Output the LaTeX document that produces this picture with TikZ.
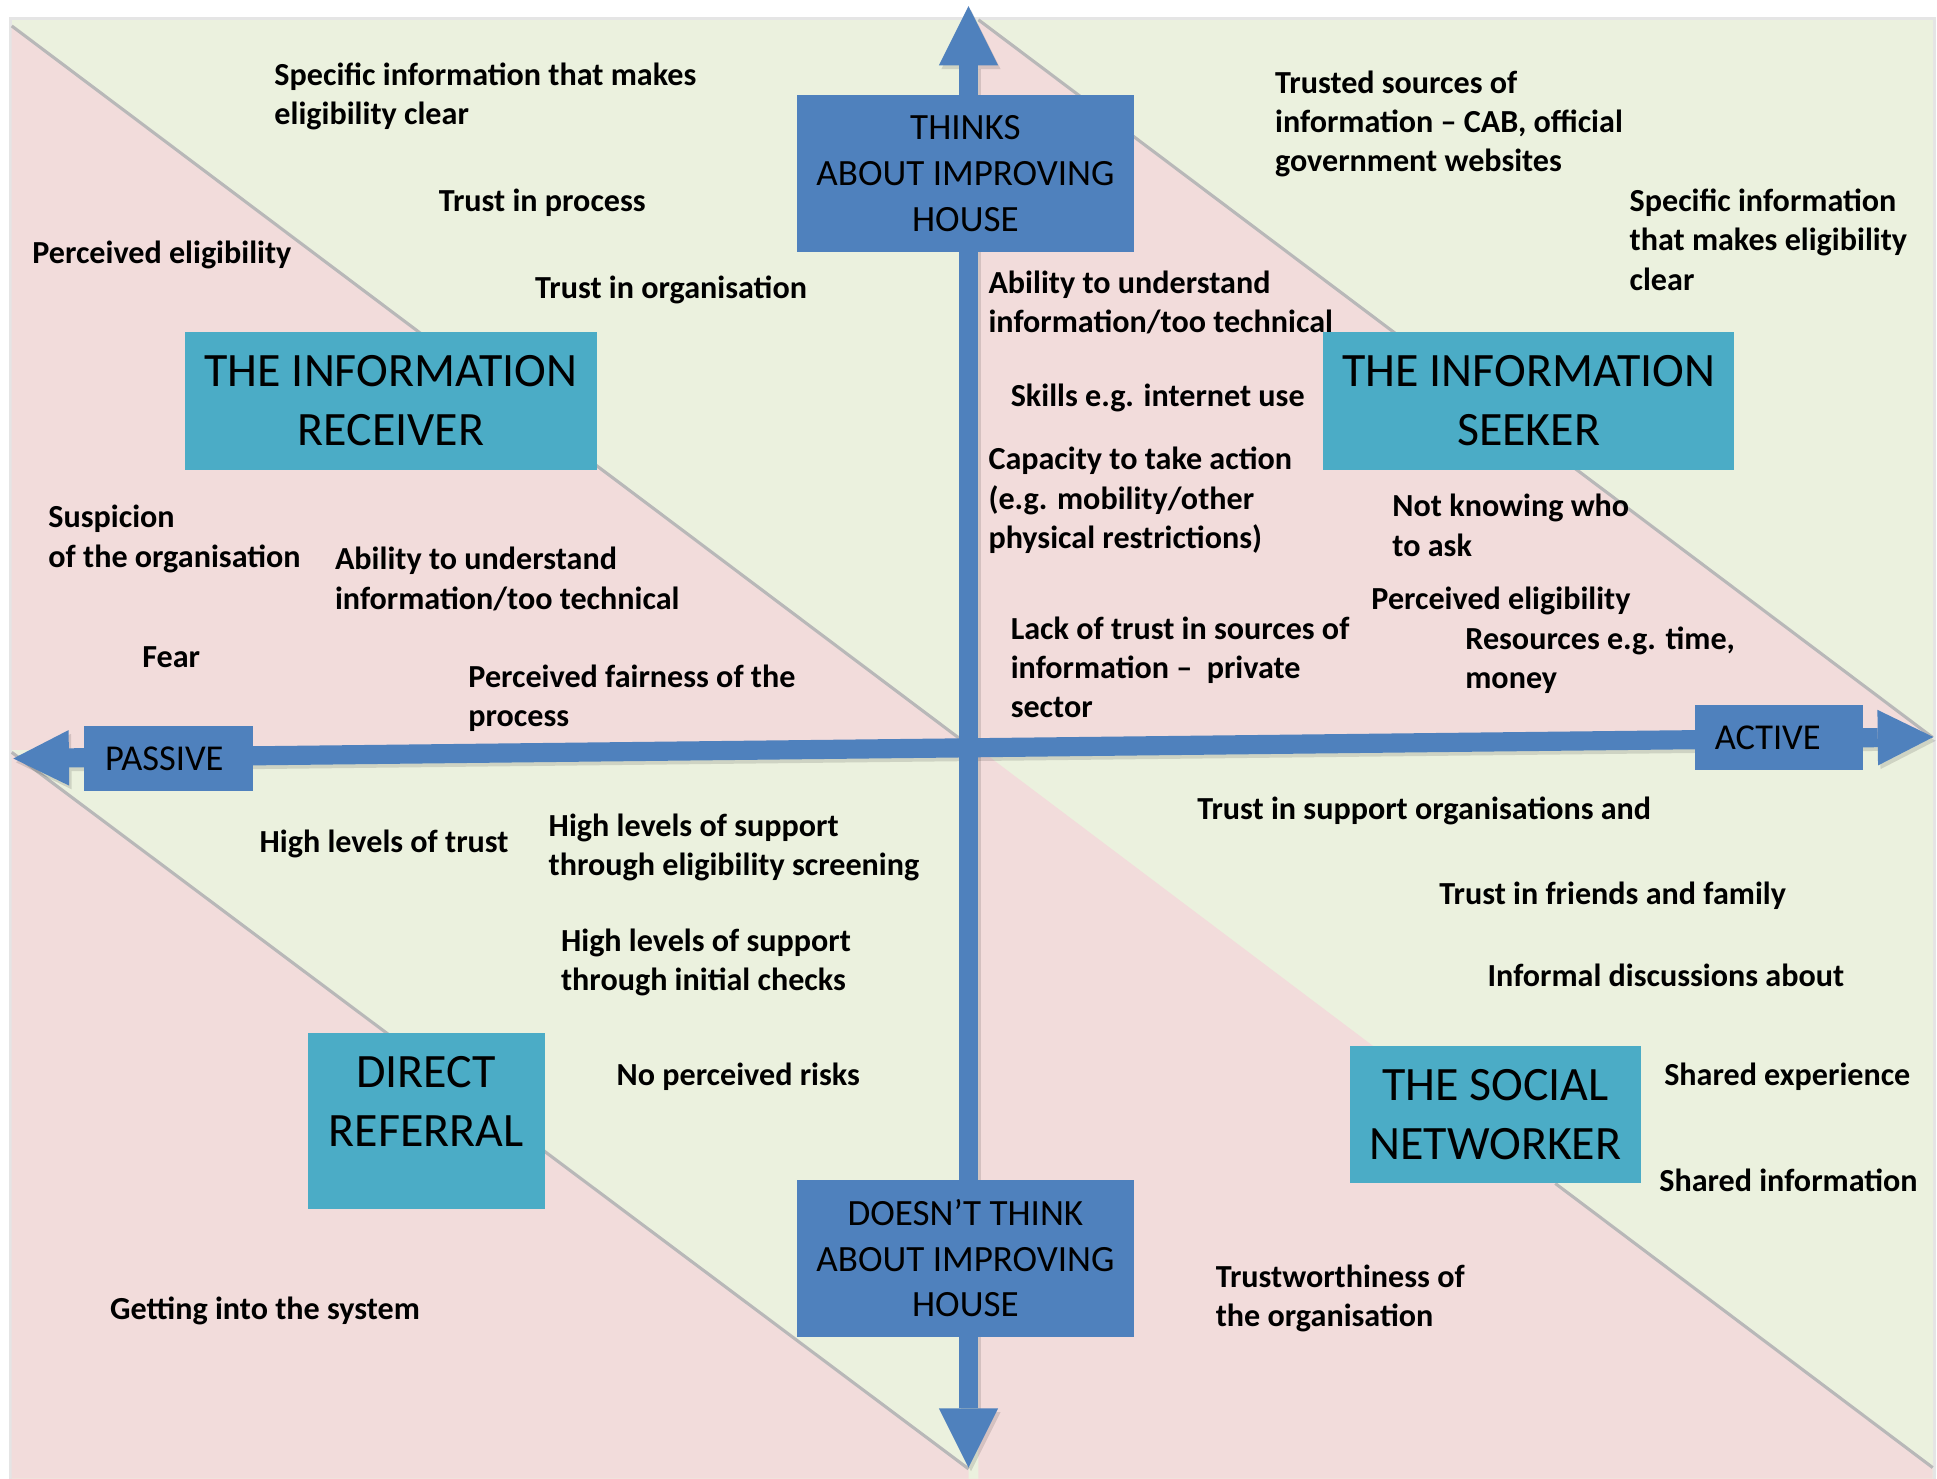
\documentclass[tikz,border=0pt]{standalone}
\usepackage{fontspec}
\setmainfont{Carlito}
\usetikzlibrary{arrows.meta}
\definecolor{bgpink}{HTML}{F2DCDB}
\definecolor{bggreen}{HTML}{EBF1DE}
\definecolor{axisblue}{HTML}{4F81BD}
\definecolor{boxcyan}{HTML}{4BACC6}
\begin{document}
\begin{tikzpicture}[x=1pt,y=-1pt,
  diag/.style={line width=2.5pt, draw=black!28},
  vaxis/.style={draw=axisblue, line width=16pt,
    {Triangle[width=48pt,length=48pt,line width=0pt]}-{Triangle[width=48pt,length=48pt,line width=0pt]}},
  haxis/.style={draw=axisblue, line width=15.5pt,
    {Triangle[width=45pt,length=45pt,line width=0pt]}-{Triangle[width=45pt,length=45pt,line width=0pt]}},
  axshadow/.style={draw=black, opacity=0.12},
  bluebox/.style={fill=axisblue, inner sep=0pt, align=center, text=black,
    font=\fontsize{30}{37}\selectfont},
  cyanbox/.style={fill=boxcyan, inner sep=0pt, align=center, text=black,
    font=\fontsize{38.8}{48}\selectfont},
  cyantext/.style={inner sep=0pt, align=center, text=black,
    font=\fontsize{38.8}{48}\selectfont},
  lbl/.style={anchor=north west, inner sep=0pt, align=left, text=black,
    yshift=14pt, font=\fontsize{26}{31.7}\selectfont\bfseries},
]
\useasboundingbox (0,0) rectangle (1568,1196.44);
% background sheet
\fill[white] (0,0) rectangle (1568,1196.44);
\fill[black!10] (7.5,14) rectangle (1567,1197);
\fill[bggreen] (9.5,16) rectangle (1564.5,1197);
% pink triangles
\fill[bgpink] (9.5,21) -- (777,598) -- (777,607) -- (9.5,607) -- cycle;
\fill[bgpink] (792,16) -- (1564.5,597) -- (792,606) -- cycle;
\fill[bgpink] (9.5,609) -- (784,1189) -- (784,1197) -- (9.5,1197) -- cycle;
\fill[bgpink] (792,606) -- (1564.5,1188) -- (1564.5,1197) -- (792,1197) -- cycle;
% diagonal edges
\draw[diag] (9.5,21) -- (777,598);
\draw[diag] (792,16) -- (1564.5,597);
\draw[diag] (9.5,609) -- (784,1189);
\draw[diag] (1259,958) -- (1564.5,1188);
% axes
\coordinate (tipN) at (784,5);
\coordinate (tipS) at (784,1188);
\coordinate (tipW) at (10.8,614);
\coordinate (tipE) at (1565,596.6);
\begin{scope}[transform canvas={shift={(2pt,-3pt)}}]
\draw[haxis, axshadow] (tipW) -- (tipE);
\draw[vaxis, axshadow] (tipS) -- (tipN);
\end{scope}
\draw[haxis] (tipW) -- (tipE);
\draw[vaxis] (tipS) -- (tipN);
% axis boxes
\node[bluebox, minimum width=273pt, minimum height=127pt] (thinks) at (781.5,140.5) {THINKS\\ABOUT IMPROVING\\HOUSE};
\node[bluebox, minimum width=273pt, minimum height=127pt] (doesnt) at (781.5,1018.5) {DOESN’T THINK\\ABOUT IMPROVING\\HOUSE};
\node[bluebox, font=\fontsize{29.5}{36}\selectfont, minimum width=137pt, minimum height=52pt] (passive) at (136.5,614) {PASSIVE\hspace*{7pt}};
\node[bluebox, font=\fontsize{29.5}{36}\selectfont, minimum width=136pt, minimum height=52pt] (active) at (1440,597) {ACTIVE\hspace*{18pt}};
% type boxes
\node[cyanbox, minimum width=333pt, minimum height=112pt] (receiver) at (316.5,324.5) {THE INFORMATION\\RECEIVER};
\node[cyanbox, minimum width=333pt, minimum height=112pt] (seeker) at (1237.5,324.5) {THE INFORMATION\\SEEKER};
\node[cyanbox, minimum width=192pt, minimum height=143pt] (referral) at (345,907.5) {};
\node[cyantext] (referraltext) at (345,891.5) {DIRECT\\REFERRAL};
\node[cyanbox, minimum width=235pt, minimum height=111pt] (social) at (1210.5,902) {THE SOCIAL\\NETWORKER};
% top-left texts
\node[lbl] (a1) at (222,61) {\strut Specific information that makes\\eligibility clear};
\node[lbl] (a2) at (355,163) {\strut Trust in process};
\node[lbl] (a3) at (26,205) {\strut Perceived eligibility};
\node[lbl] (a4) at (433,233) {\strut Trust in organisation};
\node[lbl] (a5) at (39,419) {\strut Suspicion\\of the organisation};
\node[lbl] (a6) at (271,453) {\strut Ability to understand\\information/too technical};
\node[lbl] (a7) at (115,532) {\strut Fear};
\node[lbl] (a8) at (379,548) {\strut Perceived fairness of the\\process};
% top-right texts
\node[lbl] (b1) at (1032,67) {\strut Trusted sources of\\information – CAB, official\\government websites};
\node[lbl] (b2) at (1319,163) {\strut Specific information\\that makes eligibility\\clear};
\node[lbl] (b3) at (800,229) {\strut Ability to understand\\information/too technical};
\node[lbl] (b4) at (818,321) {\strut Skills e.g. internet use};
\node[lbl] (b5) at (800,372) {\strut Capacity to take action\\(e.g. mobility/other\\physical restrictions)};
\node[lbl] (b6) at (1127,410) {\strut Not knowing who\\to ask};
\node[lbl] (b7) at (1110,485) {\strut Perceived eligibility};
\node[lbl] (b8) at (818,509) {\strut Lack of trust in sources of\\information – \ private\\sector};
\node[lbl] (b9) at (1186,517) {\strut Resources e.g. time,\\money};
% bottom-left texts
\node[lbl] (c1) at (210,682) {\strut High levels of trust};
\node[lbl] (c2) at (444,669) {\strut High levels of support\\through eligibility screening};
\node[lbl] (c3) at (454,762) {\strut High levels of support\\through initial checks};
\node[lbl] (c4) at (499,870) {\strut No perceived risks};
\node[lbl] (c5) at (89,1060) {\strut Getting into the system};
% bottom-right texts
\node[lbl] (d1) at (969,655) {\strut Trust in support organisations and};
\node[lbl] (d2) at (1165,724) {\strut Trust in friends and family};
\node[lbl] (d3) at (1204,790) {\strut Informal discussions about};
\node[lbl] (d4) at (1347,870) {\strut Shared experience};
\node[lbl] (d5) at (1343,956) {\strut Shared information};
\node[lbl] (d6) at (984,1034) {\strut Trustworthiness of\\the organisation};
\end{tikzpicture}
\end{document}
